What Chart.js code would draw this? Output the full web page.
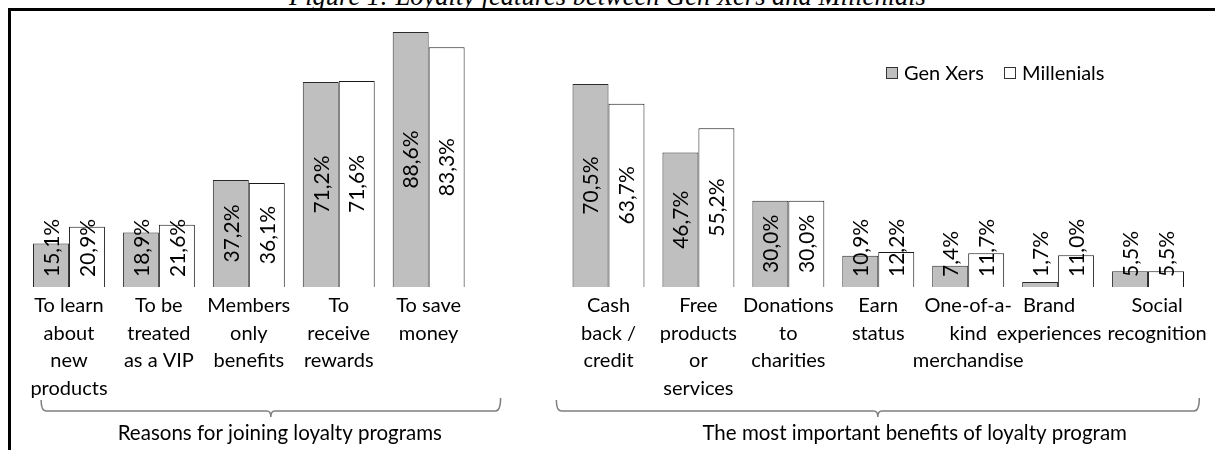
<!DOCTYPE html>
<html>
<head>
<meta charset="utf-8">
<script src="https://cdn.jsdelivr.net/npm/chart.js@4.4.1/dist/chart.umd.min.js"></script>
<style>
    html, body { margin: 0; padding: 0; background: #fff; overflow: hidden; }
    #wrap { position: relative; width: 1215px; height: 450px; }
    #title {
        position: absolute; left: 0; width: 1215px; top: -17px;
        text-align: center; font: italic 26.5px "Liberation Serif", serif; line-height: 26px; color: #000;
    }
    #frame {
        position: absolute; left: 8px; top: 8px; right: -5px; bottom: -5px;
        border-left: 3px solid #000; border-top: 3px solid #000;
    }
    #chart { position: absolute; left: 0; top: 0; }
</style>
</head>
<body>
<div id="wrap">
    <div id="title">Figure 1: Loyalty features between Gen Xers and Millenials</div>
    <div id="frame"></div>
    <canvas id="chart" width="1215" height="450"></canvas>
</div>
<script>
const categories = [
    ['To learn', 'about', 'new', 'products'],
    ['To be', 'treated', 'as a VIP'],
    ['Members', 'only', 'benefits'],
    ['To', 'receive', 'rewards'],
    ['To save', 'money'],
    '',
    ['Cash', 'back /', 'credit'],
    ['Free', 'products', 'or', 'services'],
    ['Donations', 'to', 'charities'],
    ['Earn', 'status'],
    ['One-of-a-', 'kind', 'merchandise'],
    ['Brand', 'experiences'],
    ['Social', 'recognition']
];
const genXers = [15.1, 18.9, 37.2, 71.2, 88.6, null, 70.5, 46.7, 30.0, 10.9, 7.4, 1.7, 5.5];
const millenials = [20.9, 21.6, 36.1, 71.6, 83.3, null, 63.7, 55.2, 30.0, 12.2, 11.7, 11.0, 5.5];
const groupTitles = ['Reasons for joining loyalty programs', 'The most important benefits of loyalty program'];
const groupRanges = [[0, 4], [6, 12]];

const FONT = 'Lato, "Open Sans", sans-serif';

// value labels rotated inside the bars, pushed up when the bar is too short
const valueLabels = {
    id: 'valueLabels',
    afterDatasetsDraw(chart) {
        const ctx = chart.ctx;
        ctx.save();
        ctx.font = '21px ' + FONT;
        ctx.fillStyle = '#000';
        ctx.textAlign = 'center';
        ctx.textBaseline = 'middle';
        chart.data.datasets.forEach((ds, i) => {
            chart.getDatasetMeta(i).data.forEach((bar, j) => {
                const v = ds.data[j];
                if (v == null) return;
                const txt = v.toFixed(1).replace('.', ',') + '%';
                const w = ctx.measureText(txt).width;
                const cy = Math.min((bar.y + bar.base) / 2, bar.base - 10 - w / 2);
                ctx.save();
                ctx.translate(bar.x, cy);
                ctx.rotate(-Math.PI / 2);
                ctx.fillText(txt, 0, 1);
                ctx.restore();
            });
        });
        ctx.restore();
    }
};

// category labels under the bars; lines on the same row that would overlap are pushed apart
const categoryLabels = {
    id: 'categoryLabels',
    afterDraw(chart) {
        const ctx = chart.ctx;
        const xs = chart.scales.x;
        ctx.save();
        ctx.font = '20px ' + FONT;
        ctx.fillStyle = '#000';
        ctx.textAlign = 'center';
        ctx.textBaseline = 'middle';
        const items = [];
        chart.data.labels.forEach((lab, i) => {
            if (!lab) return;
            const lines = Array.isArray(lab) ? lab : [lab];
            const ws = lines.map(s => ctx.measureText(s).width);
            items.push({ lines, ws, x: xs.getPixelForValue(i) });
        });
        const gap = 6;
        for (let it = 0; it < 50; it++) {
            for (let k = 0; k < items.length - 1; k++) {
                const a = items[k], b = items[k + 1];
                let ov = -Infinity;
                const n = Math.min(a.ws.length, b.ws.length);
                for (let r = 0; r < n; r++) {
                    ov = Math.max(ov, (a.x + a.ws[r] / 2 + gap) - (b.x - b.ws[r] / 2));
                }
                if (ov > 0) { a.x -= ov / 2; b.x += ov / 2; }
            }
            const last = items[items.length - 1];
            const over = last.x + Math.max(...last.ws) / 2 - (chart.width - 6);
            if (over > 0) last.x -= over;
        }
        const top = chart.chartArea.bottom + 19;
        items.forEach(item => {
            item.lines.forEach((s, k) => ctx.fillText(s, item.x, top + k * 27.5));
        });
        ctx.restore();
    }
};

// legend floating in the upper right of the plot
const floatLegend = {
    id: 'floatLegend',
    afterDraw(chart) {
        const ctx = chart.ctx;
        const items = chart.data.datasets;
        const pos = [886, 1004];
        ctx.save();
        ctx.font = '20px ' + FONT;
        ctx.textBaseline = 'middle';
        items.forEach((ds, i) => {
            const x = pos[i], y = 73;
            ctx.fillStyle = ds.backgroundColor;
            ctx.fillRect(x + 0.5, y - 5.5, 11, 11);
            ctx.strokeStyle = '#333';
            ctx.lineWidth = 1;
            ctx.strokeRect(x + 0.5, y - 5.5, 11, 11);
            ctx.fillStyle = '#000';
            ctx.fillText(ds.label, x + 18, y + 1);
        });
        ctx.restore();
    }
};

// curly brackets under the two category groups
const groupBraces = {
    id: 'groupBraces',
    afterDraw(chart) {
        const ctx = chart.ctx;
        const xs = chart.scales.x;
        const step = xs.getPixelForValue(1) - xs.getPixelForValue(0);
        const spans = [[-0.31, 0.8, 0.1], [-0.58, 0.57, 0.41]];
        const y = 411;
        ctx.save();
        ctx.strokeStyle = '#7f7f7f';
        ctx.lineWidth = 1.5;
        groupRanges.forEach((r, g) => {
            const l = xs.getPixelForValue(r[0]) + spans[g][0] * step;
            const rt = xs.getPixelForValue(r[1]) + spans[g][1] * step;
            const mid = (l + rt) / 2;
            ctx.beginPath();
            ctx.moveTo(l, 400);
            ctx.quadraticCurveTo(l, y, l + 5, y);
            ctx.lineTo(mid - 4, y);
            ctx.quadraticCurveTo(mid, y, mid, y + 6);
            ctx.quadraticCurveTo(mid, y, mid + 4, y);
            ctx.lineTo(rt - 5, y);
            ctx.quadraticCurveTo(rt, y, rt, 398);
            ctx.stroke();
            ctx.fillStyle = '#000';
            ctx.font = '20.5px ' + FONT;
            ctx.textAlign = 'center';
            ctx.textBaseline = 'middle';
            ctx.fillText(groupTitles[g], mid + spans[g][2] * step, 433);
        });
        ctx.restore();
    }
};

new Chart(document.getElementById('chart'), {
    type: 'bar',
    data: {
        labels: categories,
        datasets: [
            {
                label: 'Gen Xers',
                data: genXers,
                backgroundColor: '#bfbfbf',
                borderColor: '#2a2a2a',
                borderWidth: 1,
                categoryPercentage: 0.8,
                barPercentage: 1.0
            },
            {
                label: 'Millenials',
                data: millenials,
                backgroundColor: '#ffffff',
                borderColor: '#1a1a1a',
                borderWidth: 1,
                categoryPercentage: 0.8,
                barPercentage: 1.0
            }
        ]
    },
    options: {
        responsive: false,
        animation: false,
        layout: { padding: { left: 24, right: 22, top: 28, bottom: 23 } },
        plugins: {
            legend: { display: false },
            tooltip: { enabled: false }
        },
        scales: {
            x: {
                grid: { display: false, drawTicks: false },
                border: { display: false },
                ticks: { display: false },
                afterFit(scale) { scale.height = 140; }
            },
            y: {
                display: false,
                min: 0,
                max: 90
            }
        }
    },
    plugins: [valueLabels, categoryLabels, floatLegend, groupBraces]
});
</script>
</body>
</html>
